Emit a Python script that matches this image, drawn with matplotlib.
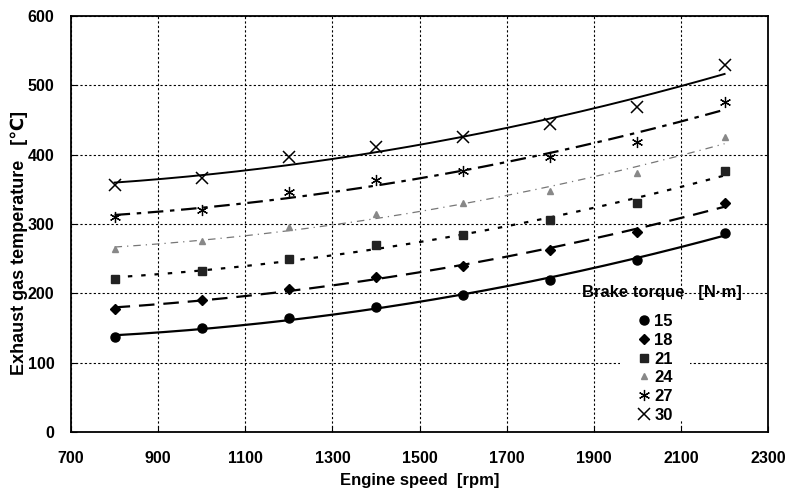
import numpy as np
import matplotlib
matplotlib.use("Agg")
import matplotlib.pyplot as plt
from matplotlib.patches import Rectangle

plt.rcParams['font.family'] = ['Liberation Sans', 'DejaVu Sans']
plt.rcParams['font.weight'] = 'bold'

speed = [800, 1000, 1200, 1400, 1600, 1800, 2000, 2200]
torques = ['15', '18', '21', '24', '27', '30']
t15 = [137, 150, 164, 180, 198, 220, 248, 287]
t18 = [177, 191, 206, 224, 240, 263, 288, 330]
t21 = [221, 232, 250, 270, 284, 306, 330, 377]
t24 = [264, 275, 296, 314, 330, 348, 373, 425]
t27 = [310, 320, 346, 363, 376, 397, 419, 476]
t30 = [356, 366, 397, 411, 425, 444, 469, 529]
series = [t15, t18, t21, t24, t27, t30]

markers = ['o', 'D', 's', '^', (6, 2, 0), 'x']
msizes = [6.5, 5, 6, 5, 8, 8]
mcolors = ['black', 'black', '#222222', '#888888', 'black', 'black']
mews = [1.0, 1.0, 1.0, 1.0, 0.9, 1.1]
lstyles = ['-', (0, (7, 4)), (0, (2, 4)), (0, (6, 4, 1, 4)), (0, (7, 3, 2, 3)), '-']
lcolors = ['black', 'black', 'black', '#777777', 'black', 'black']
lwidths = [1.6, 1.6, 1.6, 0.9, 1.6, 1.4]

fig = plt.figure(figsize=(7.96, 4.90), dpi=100)
ax = fig.add_axes([0.0892, 0.1184, 0.8758, 0.8486])

x = np.array(speed, dtype=float)
xs = np.linspace(800, 2200, 200)
for i, ys in enumerate(series):
    y = np.array(ys, dtype=float)
    c = np.polyfit(x, y, 2)
    ax.plot(xs, np.polyval(c, xs), linestyle=lstyles[i], color=lcolors[i], lw=lwidths[i], zorder=3)
    ax.plot(x, y, linestyle='none', marker=markers[i], ms=msizes[i], color=mcolors[i],
            mec=mcolors[i], mew=mews[i], label=torques[i], zorder=4)

ax.set_xlim(700, 2300)
ax.set_ylim(0, 600)
ax.set_xticks(np.arange(700, 2301, 200))
ax.set_yticks(np.arange(0, 601, 100))
ax.grid(True, color='black', linestyle=(0, (2, 2)), linewidth=0.8, zorder=1)
ax.set_axisbelow(True)
ax.tick_params(direction='in', length=4, labelsize=11.5)
ax.tick_params(axis='x', pad=13.5)
ax.tick_params(axis='y', pad=12)
for lab in ax.get_xticklabels() + ax.get_yticklabels():
    lab.set_fontweight('bold')
for s in ax.spines.values():
    s.set_linewidth(1.3)

ax.set_xlabel('Engine speed  [rpm]', fontsize=12, fontweight='bold', labelpad=5)
ax.set_ylabel('Exhaust gas temperature   [\u2103]', fontsize=13, fontweight='bold')
ax.yaxis.set_label_coords(-0.061, 0.455)

# white area behind legend entries (hides grid there)
ax.add_patch(Rectangle((0.788, 0.029), 0.100, 0.288, transform=ax.transAxes,
                       facecolor='white', edgecolor='none', zorder=2))

ax.text(0.847, 0.3365, 'Brake torque   [N\u00b7m]', transform=ax.transAxes,
        ha='center', va='center', fontsize=12, fontweight='bold', zorder=5)

leg = ax.legend(loc='upper center', bbox_to_anchor=(0.838, 0.303),
                frameon=False, fontsize=12, handlelength=0.8,
                handletextpad=0.2, labelspacing=0.22, borderpad=0.0)
for t in leg.get_texts():
    t.set_fontweight('bold')

fig.savefig('out.png', dpi=100)
